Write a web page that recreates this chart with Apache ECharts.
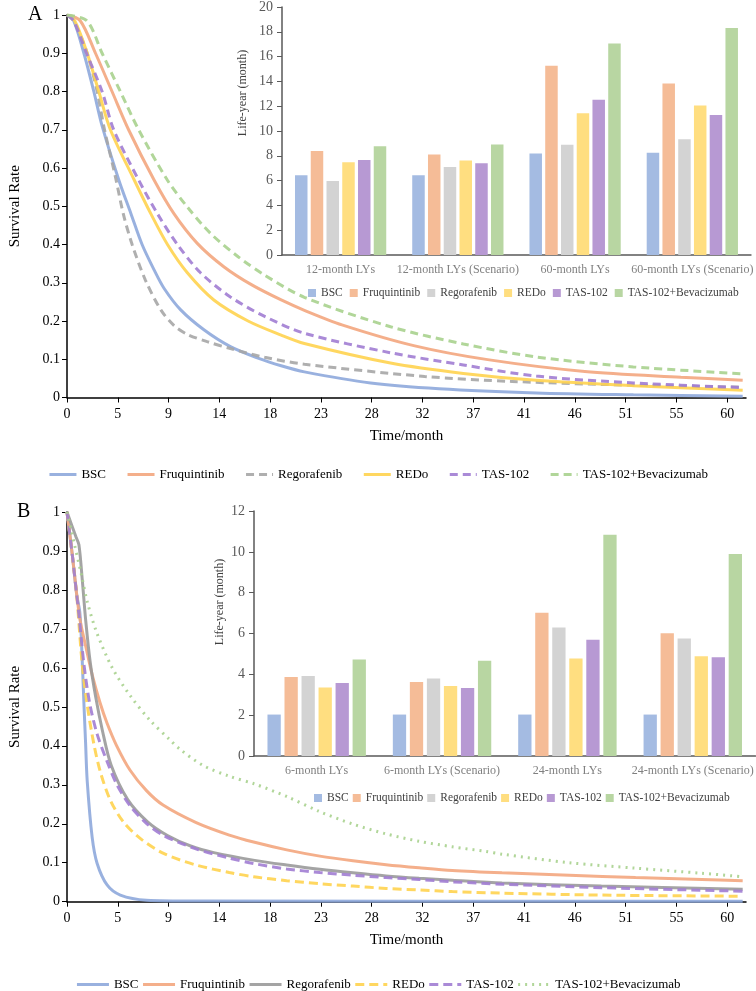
<!DOCTYPE html>
<html>
<head>
<meta charset="utf-8">
<script src="https://cdn.jsdelivr.net/npm/echarts@6/dist/echarts.min.js"></script>
<style>
  html, body { margin: 0; padding: 0; background: #fff; }
  #chart { width: 756px; height: 991px; }
</style>
</head>
<body>
<div id="chart"></div>
<script>
// 治疗方案
const treatments = ["BSC", "Fruquintinib", "Regorafenib", "REDo", "TAS-102", "TAS-102+Bevacizumab"];

// 横轴刻度（月）
const xTickPos = [0, 4.6, 9.2, 13.8, 18.4, 23, 27.6, 32.2, 36.8, 41.4, 46, 50.6, 55.2, 59.8];
const xTickLabels = ["0", "5", "9", "14", "18", "23", "28", "32", "37", "41", "46", "51", "55", "60"];

// 图A 生存曲线 [月, 生存率]
const survA_BSC = [[0,1],[0.6,0.985],[1.53,0.9],[2.43,0.8],[3.18,0.71],[4.7,0.568],[5.8,0.48],[6.8,0.4],[7.9,0.333],[8.8,0.285],[10.3,0.229],[12.4,0.177],[14.8,0.133],[17.3,0.103],[19.4,0.083],[21.5,0.067],[27.5,0.038],[33.7,0.023],[42.5,0.012],[51.3,0.007],[61.2,0.003]];
const survA_Fruq = [[0,1],[1.2,0.985],[2.58,0.9],[4.08,0.8],[5.58,0.7],[7.9,0.568],[9.7,0.48],[11.8,0.403],[14.2,0.342],[16.7,0.295],[19.4,0.255],[21.5,0.228],[24.9,0.19],[31.5,0.135],[38.1,0.099],[46.9,0.068],[55.6,0.053],[61.2,0.045]];
const survA_Rego = [[0,1],[0.6,0.985],[1.83,0.9],[2.73,0.8],[3.4,0.7],[4.4,0.575],[5.1,0.48],[5.9,0.4],[7.1,0.307],[8.5,0.229],[9.7,0.188],[10.9,0.165],[12.7,0.146],[14.8,0.128],[17.9,0.105],[21.5,0.087],[32.4,0.055],[40.3,0.042],[51.3,0.032],[61.2,0.027]];
const survA_REDo = [[0,1],[0.7,0.985],[1.83,0.9],[2.88,0.8],[3.93,0.7],[6.1,0.568],[7.6,0.48],[9.1,0.4],[10.9,0.326],[13.3,0.255],[16.4,0.2],[19.4,0.163],[21.5,0.141],[29.3,0.09],[35.9,0.063],[42.5,0.045],[51.3,0.031],[61.2,0.019]];
const survA_TAS = [[0,1],[0.6,0.985],[1.77,0.9],[3.18,0.8],[4.23,0.7],[6.5,0.568],[8.2,0.48],[10.0,0.4],[12.1,0.326],[14.8,0.263],[17.9,0.212],[21.5,0.168],[29.3,0.117],[35.9,0.085],[42.5,0.056],[51.3,0.038],[61.2,0.026]];
const survA_Bev = [[0,1],[1.8,0.985],[3.18,0.9],[4.83,0.8],[6.49,0.7],[9.1,0.568],[10.9,0.498],[13.0,0.429],[15.5,0.368],[17.9,0.32],[21.5,0.262],[29.3,0.185],[35.9,0.14],[42.5,0.106],[51.3,0.08],[61.2,0.062]];

// 图B 生存曲线
const survB_BSC = [[0,1],[0.48,0.89],[0.87,0.79],[1.17,0.74],[1.35,0.64],[1.53,0.51],[1.68,0.41],[1.83,0.31],[2.28,0.165],[2.73,0.098],[3.63,0.043],[4.83,0.017],[7.2,0.004],[12,0.002],[61.2,0.001]];
const survB_Fruq = [[0,1],[0.48,0.89],[0.87,0.79],[1.2,0.72],[1.7,0.655],[2.3,0.58],[3.0,0.51],[3.63,0.458],[4.5,0.4],[5.7,0.338],[7.2,0.285],[8.7,0.248],[11.7,0.203],[14.7,0.171],[16.9,0.153],[19.9,0.133],[22.9,0.117],[25.9,0.105],[28.9,0.095],[31.9,0.087],[34.9,0.08],[39.4,0.074],[45.5,0.068],[51.5,0.062],[57.5,0.057],[61.2,0.054]];
const survB_Rego = [[0,1],[0.8,0.937],[1.08,0.916],[1.4,0.82],[1.7,0.72],[2.1,0.615],[2.6,0.525],[3.2,0.44],[4.0,0.35],[5.5,0.262],[7.3,0.205],[9.1,0.17],[11.2,0.143],[13.3,0.126],[17.0,0.106],[19.9,0.094],[22.9,0.083],[25.9,0.074],[28.9,0.066],[31.9,0.06],[34.9,0.055],[39.4,0.048],[48.4,0.04],[61.2,0.032]];
const survB_REDo = [[0,1],[0.48,0.89],[0.87,0.79],[1.38,0.608],[1.83,0.505],[2.43,0.405],[3.03,0.332],[3.93,0.26],[5.1,0.205],[6.6,0.163],[8.74,0.124],[11.7,0.094],[14.7,0.075],[16.9,0.064],[19.9,0.054],[22.9,0.046],[25.9,0.04],[28.9,0.034],[31.9,0.03],[34.9,0.026],[39.4,0.022],[48.4,0.017],[61.2,0.014]];
const survB_TAS = [[0,1],[0.48,0.89],[0.87,0.79],[1.08,0.736],[1.53,0.61],[2.05,0.51],[2.73,0.43],[3.63,0.36],[4.53,0.3],[5.74,0.245],[7.24,0.2],[8.74,0.17],[11.74,0.135],[14.7,0.112],[16.9,0.098],[19.9,0.084],[22.9,0.075],[25.9,0.068],[28.9,0.062],[31.9,0.057],[34.9,0.051],[39.4,0.045],[48.4,0.036],[61.2,0.027]];
const survB_Bev = [[0,1],[0.65,0.92],[1.3,0.84],[1.83,0.77],[2.7,0.69],[4.1,0.6],[5.74,0.528],[7.5,0.466],[9.3,0.416],[10.2,0.392],[12.3,0.35],[14.7,0.322],[17.0,0.302],[19.9,0.27],[22.9,0.231],[25.9,0.199],[28.9,0.174],[31.9,0.155],[34.9,0.141],[37.9,0.129],[39.4,0.122],[45.5,0.1],[51.5,0.086],[57.5,0.073],[61.2,0.064]];

// 小图 生命年（月）
const lyCatsA = ["12-month LYs", "12-month LYs (Scenario)", "60-month LYs", "60-month LYs (Scenario)"];
const lyA_BSC = [6.43, 6.43, 8.19, 8.25];
const lyA_Fruq = [8.38, 8.11, 15.26, 13.84];
const lyA_Rego = [5.97, 7.09, 8.89, 9.34];
const lyA_REDo = [7.47, 7.63, 11.43, 12.05];
const lyA_TAS = [7.66, 7.39, 12.53, 11.3];
const lyA_Bev = [8.78, 8.92, 17.05, 18.3];

const lyCatsB = ["6-month LYs", "6-month LYs (Scenario)", "24-month LYs", "24-month LYs (Scenario)"];
const lyB_BSC = [2.03, 2.03, 2.03, 2.03];
const lyB_Fruq = [3.87, 3.63, 7.02, 6.01];
const lyB_Rego = [3.92, 3.79, 6.29, 5.76];
const lyB_REDo = [3.35, 3.43, 4.77, 4.88];
const lyB_TAS = [3.58, 3.33, 5.69, 4.84];
const lyB_Bev = [4.73, 4.67, 10.84, 9.9];

const SERIF = "'Liberation Serif', 'Times New Roman', serif";
const lineColors = ["#8EA9DB", "#F3A67E", "#A6A6A6", "#FFD34F", "#A17DD3", "#A9D18E"];
const lineColorsB = ["#8EA9DB", "#F3A67E", "#9A9A9A", "#FFD34F", "#A17DD3", "#A9D18E"];
const barColors = ["#A4BBE2", "#F5BC97", "#D3D3D3", "#FFDE80", "#B799D3", "#B8D6A2"];
const dashA = ["solid", "solid", [8, 5], "solid", [8, 5], [8, 5]];
const dashB = ["solid", "solid", "solid", [9, 5], [9, 5], [2, 5]];

const survA = [survA_BSC, survA_Fruq, survA_Rego, survA_REDo, survA_TAS, survA_Bev];
const survB = [survB_BSC, survB_Fruq, survB_Rego, survB_REDo, survB_TAS, survB_Bev];
const lyA = [lyA_BSC, lyA_Fruq, lyA_Rego, lyA_REDo, lyA_TAS, lyA_Bev];
const lyB = [lyB_BSC, lyB_Fruq, lyB_Rego, lyB_REDo, lyB_TAS, lyB_Bev];

const chart = echarts.init(document.getElementById("chart"), null, { renderer: "canvas" });

// 主图坐标轴
function mainX(gridIndex) {
	return {
		type: "value", gridIndex, min: 0, max: 61.5,
		name: "Time/month", nameLocation: "middle", nameGap: 31,
		nameTextStyle: { fontFamily: SERIF, fontSize: 15, color: "#000" },
		axisLine: { lineStyle: { color: "#000", width: 1.5 } },
		axisTick: { customValues: xTickPos, length: 5, lineStyle: { color: "#000" } },
		axisLabel: {
			customValues: xTickPos, margin: 10,
			fontFamily: SERIF, fontSize: 14, color: "#000",
			formatter: (v) => xTickLabels[xTickPos.indexOf(v)] ?? "",
		},
		splitLine: { show: false },
	};
}
function mainY(gridIndex) {
	return {
		type: "value", gridIndex, min: 0, max: 1, interval: 0.1,
		name: "Survival Rate", nameLocation: "middle", nameGap: 44,
		nameTextStyle: { fontFamily: SERIF, fontSize: 15, color: "#000" },
		axisLine: { show: true, lineStyle: { color: "#000", width: 1.5 } },
		axisTick: { show: true, length: 5, lineStyle: { color: "#000" } },
		axisLabel: { margin: 7, fontFamily: SERIF, fontSize: 14, color: "#000" },
		splitLine: { show: false },
	};
}
function insetX(gridIndex, cats) {
	return {
		type: "category", gridIndex, data: cats,
		axisLine: { lineStyle: { color: "#595959", width: 1.5 } },
		axisTick: { show: false },
		axisLabel: { margin: 9, interval: 0, fontFamily: SERIF, fontSize: 12, color: "#808080" },
	};
}
function insetY(gridIndex, max) {
	return {
		type: "value", gridIndex, min: 0, max, interval: 2,
		axisLine: { show: true, lineStyle: { color: "#595959", width: 1.5 } },
		axisTick: { show: true, length: 5, lineStyle: { color: "#595959" } },
		axisLabel: { margin: 9, fontFamily: SERIF, fontSize: 14, color: "#595959" },
		splitLine: { show: false },
	};
}

function lineSeries(prefix, axis, data, color, dash) {
	return {
		name: prefix, type: "line", xAxisIndex: axis, yAxisIndex: axis,
		data, smooth: 0.3, symbol: "none", showSymbol: false, z: 2,
		lineStyle: { color, width: 3, type: dash, opacity: 0.9 },
		itemStyle: { color },
	};
}

const series = [];
treatments.forEach((t, i) => {
	series.push(lineSeries("A|" + t, 0, survA[i], lineColors[i], dashA[i]));
});
treatments.forEach((t, i) => {
	series.push({
		name: "Ai|" + t, type: "bar", xAxisIndex: 1, yAxisIndex: 1,
		data: lyA[i], barWidth: 12.5, barGap: "26%", z: 3,
		itemStyle: { color: barColors[i] },
	});
});
treatments.forEach((t, i) => {
	series.push(lineSeries("B|" + t, 2, survB[i], lineColorsB[i], dashB[i]));
});
treatments.forEach((t, i) => {
	series.push({
		name: "Bi|" + t, type: "bar", xAxisIndex: 3, yAxisIndex: 3,
		data: lyB[i], barWidth: 13.3, barGap: "28%", z: 3,
		itemStyle: { color: barColors[i] },
	});
});

const stripName = (n) => n.split("|")[1];

const option = {
	backgroundColor: "#fff",
	animation: false,
	grid: [
		{ left: 63, top: 15, width: 683, height: 382.5 },
		{ left: 282, top: 6, width: 472, height: 249 },
		{ left: 63, top: 512, width: 683, height: 389.7 },
		{ left: 254, top: 511, width: 508, height: 245 },
	],
	xAxis: [mainX(0), insetX(1, lyCatsA), mainX(2), insetX(3, lyCatsB)],
	yAxis: [mainY(0), insetY(1, 20), mainY(2), insetY(3, 12)],
	legend: [
		{
			data: treatments.map((t) => "A|" + t), formatter: stripName,
			left: "center", top: 463, itemWidth: 27, itemHeight: 12, itemGap: 20,
			itemStyle: { opacity: 0 }, lineStyle: { width: 3 },
			textStyle: { fontFamily: SERIF, fontSize: 13, color: "#000" },
		},
		{
			data: treatments.map((t) => "Ai|" + t), formatter: stripName,
			left: 303, top: 282, width: 480, icon: "rect", itemWidth: 8, itemHeight: 8, itemGap: 7,
			textStyle: { fontFamily: SERIF, fontSize: 11.5, color: "#404040" },
		},
		{
			data: treatments.map((t) => "B|" + t), formatter: stripName,
			left: "center", top: 973, itemWidth: 32, itemHeight: 12, itemGap: 3,
			itemStyle: { opacity: 0 }, lineStyle: { width: 3 },
			textStyle: { fontFamily: SERIF, fontSize: 13, color: "#000" },
		},
		{
			data: treatments.map((t) => "Bi|" + t), formatter: stripName,
			left: 309, top: 787, width: 480, icon: "rect", itemWidth: 8, itemHeight: 8, itemGap: 4,
			textStyle: { fontFamily: SERIF, fontSize: 11.5, color: "#404040" },
		},
	],
	graphic: [
		{ type: "text", x: 28, y: 5, style: { text: "A", font: "20px " + SERIF, fill: "#000" } },
		{ type: "text", x: 17, y: 502, style: { text: "B", font: "20px " + SERIF, fill: "#000" } },
		{
			type: "text", x: 243, y: 93, rotation: Math.PI / 2,
			style: { text: "Life-year (month)", font: "12px " + SERIF, fill: "#404040", align: "center", verticalAlign: "middle" },
		},
		{
			type: "text", x: 220, y: 602, rotation: Math.PI / 2,
			style: { text: "Life-year (month)", font: "12px " + SERIF, fill: "#404040", align: "center", verticalAlign: "middle" },
		},
	],
	series,
};

chart.setOption(option);
</script>
</body>
</html>
